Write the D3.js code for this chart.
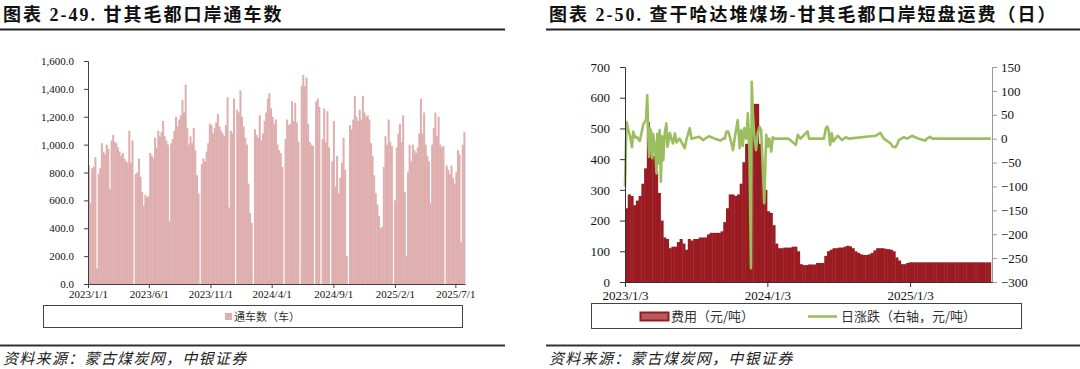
<!DOCTYPE html>
<html>
<head>
<meta charset="utf-8">
<script src="https://cdn.jsdelivr.net/npm/d3@7"></script>
<style>
body { margin: 0; background: #fff; }
svg { display: block; }
</style>
</head>
<body>
<svg id="chart" width="1080" height="369"></svg>
<script>
// 图表 2-49: 通车数, one value per 4-day period starting 2023/1/1
var tripStart = "2023-01-01";
var tripStep = 4;
var trips = [
    850, 580, 830, 840, 910, 110, 790, 830, 1010, 950,
    930, 1000, 970, 680, 1030, 1070, 1020, 1010, 980, 950,
    920, 940, 900, 880, 870, 1100, 870, 1030, 0, 790,
    800, 900, 770, 660, 560, 640, 620, 630, 940, 920,
    900, 1050, 980, 1100, 1060, 1090, 1170, 1060, 1030, 1000,
    450, 1010, 1040, 1100, 1200, 1130, 1180, 1210, 1320, 1230,
    1430, 1120, 1000, 1060, 1010, 1120, 960, 780, 650, 0,
    860, 900, 880, 950, 1010, 1150, 1140, 1080, 1120, 1160,
    1220, 1130, 1100, 1080, 1060, 1140, 1340, 550, 1100, 1080,
    1330, 0, 1250, 1230, 1390, 1200, 1130, 1050, 1000, 720,
    510, 440, 0, 1110, 1070, 1050, 1210, 1030, 1080, 1170,
    1230, 1330, 1370, 1260, 1200, 1150, 1180, 1000, 960, 940,
    840, 0, 1040, 1180, 1140, 1150, 1310, 1170, 1300, 1160,
    1020, 0, 1420, 1500, 1420, 1480, 1150, 1020, 1000, 990,
    0, 1310, 1330, 1270, 0, 1040, 1260, 1020, 1240, 980,
    0, 880, 1170, 700, 920, 650, 760, 870, 1050, 820,
    200, 0, 1140, 1110, 1180, 1350, 1200, 1170, 1250, 1180,
    1350, 1230, 1200, 1210, 1180, 1010, 920, 780, 650, 570,
    490, 400, 410, 840, 1060, 1000, 1180, 1020, 990, 0,
    600, 980, 1080, 1150, 1020, 1210, 660, 200, 800, 1000,
    880, 1000, 960, 940, 980, 1080, 1330, 1080, 1230, 1000,
    920, 880, 580, 1000, 1120, 1230, 1060, 1200, 1000, 980,
    990, 0, 850, 820, 790, 850, 760, 720, 800, 960,
    930, 300, 1000, 1090
];
var tripEnd = "2025-07-25";
var tripTicks = ["2023-01-01", "2023-06-01", "2023-11-01", "2024-04-01", "2024-09-01", "2025-02-01", "2025-07-01"];
var tripYTicks = [0, 200, 400, 600, 800, 1000, 1200, 1400, 1600];

// 图表 2-50: 短盘运费 (元/吨), one value per week starting 2023/1/3
var feeStart = "2023-01-03";
var feeStep = 7;
var fees = [
    240, 285, 280, 250, 265, 280, 320, 370, 520, 440,
    410, 360, 290, 200, 145, 140, 110, 115, 115, 130,
    140, 125, 105, 140, 135, 140, 140, 145, 145, 145,
    155, 160, 160, 160, 160, 165, 195, 240, 285, 285,
    280, 285, 320, 390, 450, 470, 500, 580, 580, 450,
    360, 300, 230, 225, 185, 125, 110, 110, 112, 112,
    112, 115, 115, 100, 58, 55, 55, 57, 57, 57,
    62, 62, 62, 85, 100, 105, 110, 110, 112, 112,
    115, 118, 116, 110, 100, 95, 90, 88, 88, 90,
    95, 103, 110, 110, 110, 108, 107, 105, 100, 80,
    70, 58, 58, 62, 64, 64, 64, 64, 64, 64,
    64, 64, 64, 64, 64, 64, 64, 64, 64, 64,
    64, 64, 64, 64, 64, 64, 64, 64, 64, 64,
    64, 64, 64, 64
];
var feeEnd = "2025-08-01";
// 日涨跌: days after 2023/1/3 and change (元/吨)
var changeDays = [
    0, 4, 8, 13, 18, 21, 26, 30, 38, 47,
    54, 57, 60, 62, 64, 66, 70, 72, 77, 81,
    83, 85, 89, 92, 95, 98, 102, 106, 109, 115,
    119, 123, 128, 132, 140, 153, 158, 166, 170, 190,
    200, 215, 230, 245, 251, 256, 260, 265, 270, 277,
    282, 289, 294, 298, 302, 306, 311, 315, 319, 323,
    325, 328, 332, 336, 340, 345, 349, 353, 357, 362,
    366, 370, 375, 379, 383, 420, 438, 443, 450, 468,
    472, 510, 515, 519, 522, 526, 530, 534, 545, 557,
    566, 574, 642, 655, 659, 664, 681, 687, 693, 698,
    702, 715, 723, 736, 744, 753, 770, 774, 783, 787,
    938
];
var changeValues = [
    -100, 35, 20, 5, -18, 15, 2, 4, -5, 30,
    40, 91, 0, -38, 22, 18, -41, 10, -17, -73,
    10, -52, 18, -90, 5, -45, 12, 32, -17, 12,
    0, -10, 11, -8, 0, -20, 0, 22, 0, 4,
    -3, 5, 0, -4, 0, 0, 15, 15, 0, -24,
    5, 39, -20, 18, -15, 22, 0, 53, -17, -271,
    119, 53, 0, -24, 10, 25, 18, -52, -135, 8,
    -17, 0, -27, 3, 0, 0, -13, 8, 0, 15,
    0, 0, 22, 25, 18, -13, 11, -6, 6, -3,
    3, 0, 6, 12, 6, 0, -10, -17, -18, -12,
    -3, 3, 0, 6, 3, 0, -4, 0, 4, 0,
    0
];
var feeTicks = ["2023-01-03", "2024-01-03", "2025-01-03"];
var feeYTicks = [0, 100, 200, 300, 400, 500, 600, 700];
var changeYTicks = [-300, -250, -200, -150, -100, -50, 0, 50, 100, 150];

var parse = d3.timeParse("%Y-%m-%d");
var fmtDate = d3.timeFormat("%Y/%-m/%-d");
var serif = "'Liberation Serif', 'Times New Roman', serif";
var cjk = "'Noto Sans CJK SC', 'Noto Sans', sans-serif";
var titleFont = "'Liberation Serif', 'Noto Sans CJK SC', serif";

var svg = d3.select("#chart");

function frame(x0, x1, title) {
    svg.append("text").attr("x", x0 + 3).attr("y", 21)
        .attr("font-family", titleFont).attr("font-weight", "bold")
        .attr("font-size", "18px").attr("letter-spacing", "2px")
        .attr("fill", "#111").text(title);
    svg.append("rect").attr("x", x0).attr("y", 28.5).attr("width", x1 - x0).attr("height", 2).attr("fill", "#222");
    svg.append("rect").attr("x", x0).attr("y", 344.5).attr("width", x1 - x0).attr("height", 2).attr("fill", "#333");
    svg.append("text").attr("x", x0 + 3).attr("y", 364)
        .attr("font-family", cjk).attr("font-style", "italic")
        .attr("font-size", "15px").attr("letter-spacing", "1.3px")
        .attr("fill", "#222").text("资料来源：蒙古煤炭网，中银证券");
}

function styleAxis(g, color, size) {
    g.selectAll("path").attr("stroke", color);
    g.selectAll("line").attr("stroke", color);
    g.selectAll("text").attr("font-family", serif).attr("font-size", size).attr("fill", "#111");
}

// ---------- left chart ----------
(function () {
    frame(0, 505, "图表 2-49. 甘其毛都口岸通车数");

    var t0 = parse(tripStart);
    var x = d3.scaleTime().domain([t0, parse(tripEnd)]).range([88, 465]);
    var y = d3.scaleLinear().domain([0, 1600]).range([284, 61]);

    var g = svg.append("g");
    g.selectAll("rect.trip").data(trips).enter().append("rect")
        .attr("class", "trip")
        .attr("x", function (d, i) { return x(d3.timeDay.offset(t0, i * tripStep)); })
        .attr("width", function (d, i) {
            var a = x(d3.timeDay.offset(t0, i * tripStep));
            var b = x(d3.timeDay.offset(t0, (i + 1) * tripStep));
            return Math.max(0, b - a + 0.4);
        })
        .attr("y", function (d) { return y(d); })
        .attr("height", function (d) { return 284 - y(d); })
        .attr("fill", "#DFAEAE");

    var ya = svg.append("g").attr("transform", "translate(88,0)")
        .call(d3.axisLeft(y).tickValues(tripYTicks).tickSize(4).tickPadding(10).tickFormat(d3.format(",.1f")));
    styleAxis(ya, "#404040", "11px");

    var xa = svg.append("g").attr("transform", "translate(0,284)")
        .call(d3.axisBottom(x).tickValues(tripTicks.map(parse)).tickSize(4).tickSizeOuter(0).tickPadding(2).tickFormat(fmtDate));
    styleAxis(xa, "#404040", "11px");

    svg.append("rect").attr("x", 43.5).attr("y", 305.5).attr("width", 419).attr("height", 22)
        .attr("fill", "none").attr("stroke", "#444");
    svg.append("rect").attr("x", 225).attr("y", 313).attr("width", 7).attr("height", 7).attr("fill", "#DFAEAE");
    svg.append("text").attr("x", 234).attr("y", 321).attr("font-family", cjk).attr("font-size", "11px")
        .attr("fill", "#333").text("通车数（车）");
})();

// ---------- right chart ----------
(function () {
    frame(546, 1080, "图表 2-50. 查干哈达堆煤场-甘其毛都口岸短盘运费（日）");

    var t0 = parse(feeStart);
    var x = d3.scaleTime().domain([t0, parse(feeEnd)]).range([625, 992]);
    var yL = d3.scaleLinear().domain([0, 700]).range([282, 67]);
    var yR = d3.scaleLinear().domain([-300, 150]).range([282, 67]);

    svg.append("g").selectAll("rect").data(fees).enter().append("rect")
        .attr("x", function (d, i) { return x(d3.timeDay.offset(t0, i * feeStep)); })
        .attr("width", function (d, i) {
            return x(d3.timeDay.offset(t0, (i + 1) * feeStep)) - x(d3.timeDay.offset(t0, i * feeStep)) + 0.4;
        })
        .attr("y", function (d) { return yL(d); })
        .attr("height", function (d) { return 282 - yL(d); })
        .attr("fill", "#9B1B22");

    var pts = changeDays.map(function (d, i) { return [d3.timeDay.offset(t0, d), changeValues[i]]; });
    var line = d3.line()
        .x(function (d) { return x(d[0]); })
        .y(function (d) { return yR(d[1]); });
    svg.append("path").datum(pts).attr("d", line)
        .attr("fill", "none").attr("stroke", "#9BBF5E").attr("stroke-width", 2.6)
        .attr("stroke-linejoin", "round");

    var la = svg.append("g").attr("transform", "translate(625,0)")
        .call(d3.axisLeft(yL).tickValues(feeYTicks).tickSize(5).tickPadding(10));
    styleAxis(la, "#333", "13px");

    var ra = svg.append("g").attr("transform", "translate(992,0)")
        .call(d3.axisRight(yR).tickValues(changeYTicks).tickSize(5).tickPadding(4));
    styleAxis(ra, "#999", "13.5px");
    ra.selectAll("text").attr("font-size", "13px");

    var xa = svg.append("g").attr("transform", "translate(0,282)")
        .call(d3.axisBottom(x).tickValues(feeTicks.map(parse)).tickSize(5).tickSizeOuter(0).tickPadding(4).tickFormat(fmtDate));
    styleAxis(xa, "#333", "13px");

    svg.append("rect").attr("x", 591.5).attr("y", 303.5).attr("width", 430).attr("height", 25)
        .attr("fill", "none").attr("stroke", "#444");
    svg.append("rect").attr("x", 640.5).attr("y", 312.5).attr("width", 28).attr("height", 8)
        .attr("fill", "#B85A5E").attr("stroke", "#9B1B22").attr("stroke-width", 2);
    svg.append("text").attr("x", 671).attr("y", 321).attr("font-family", cjk).attr("font-size", "13px")
        .attr("fill", "#333").text("费用（元/吨）");
    svg.append("line").attr("x1", 808).attr("x2", 837).attr("y1", 316.5).attr("y2", 316.5)
        .attr("stroke", "#9BBF5E").attr("stroke-width", 2.6);
    svg.append("text").attr("x", 841).attr("y", 321).attr("font-family", cjk).attr("font-size", "13px")
        .attr("fill", "#333").text("日涨跌（右轴，元/吨）");
})();
</script>
</body>
</html>
